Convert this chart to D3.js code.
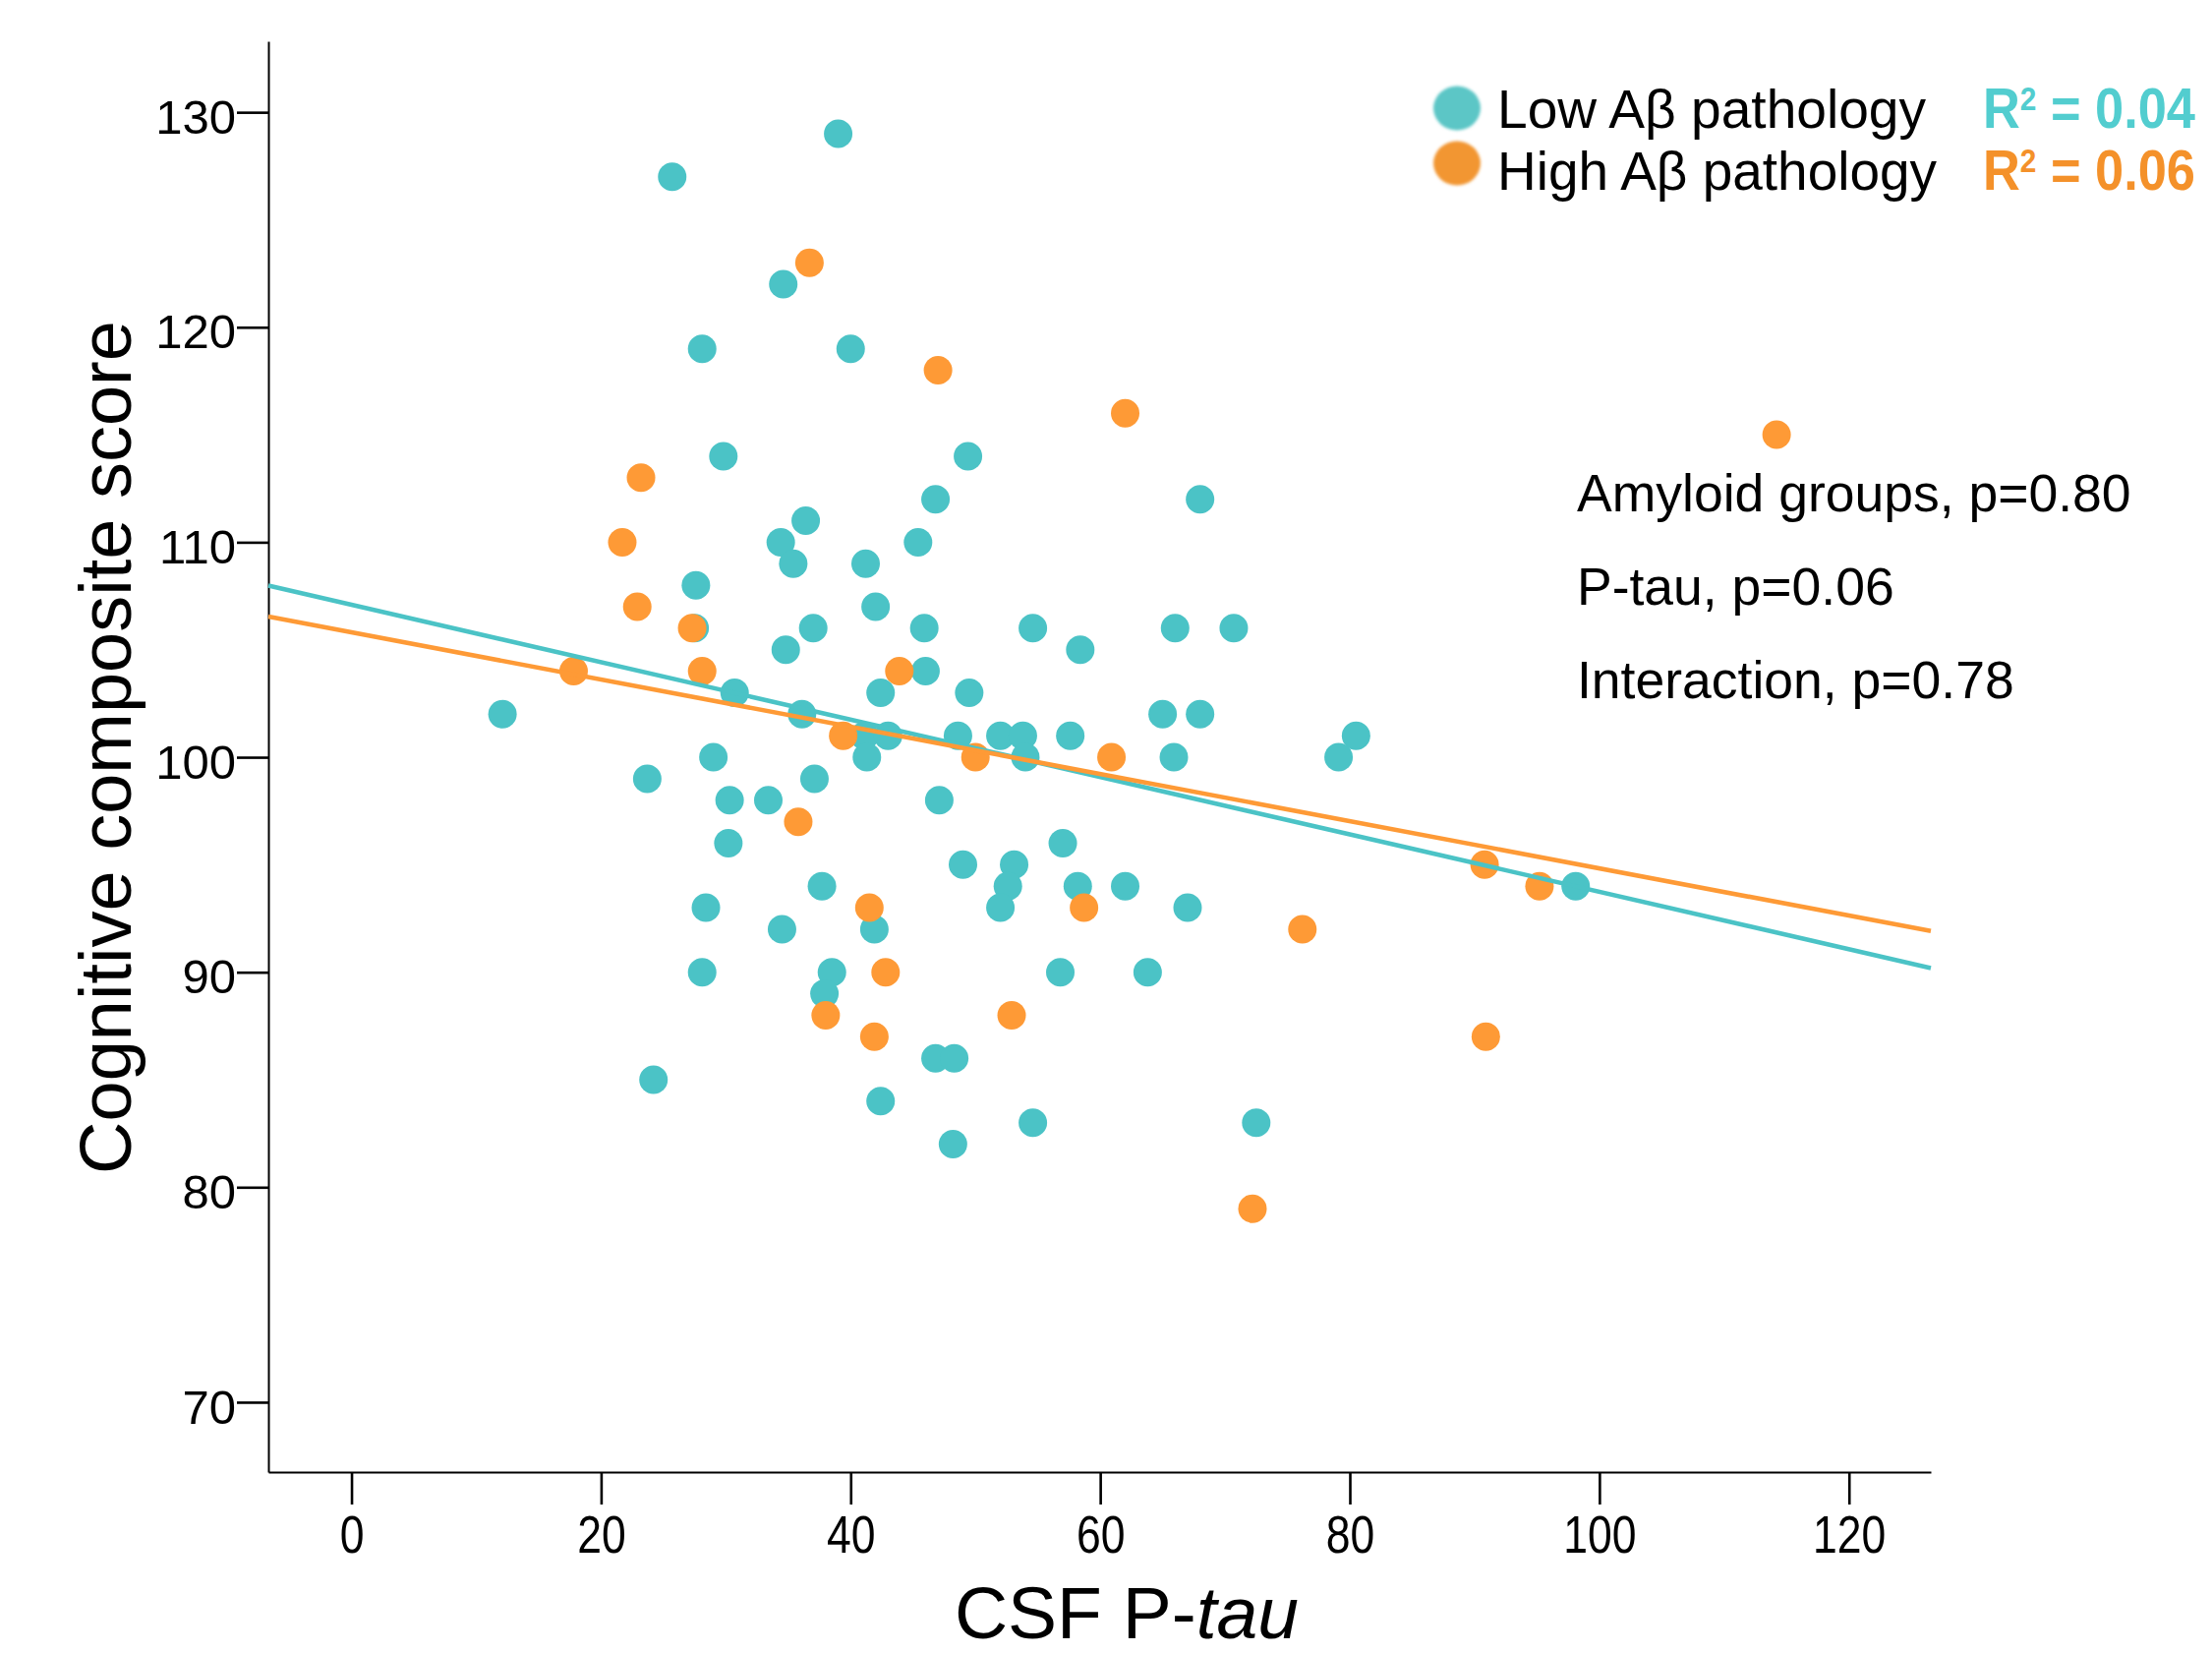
<!DOCTYPE html>
<html>
<head>
<meta charset="utf-8">
<script src="https://cdn.jsdelivr.net/npm/d3@7"></script>
<style>
  html, body { margin: 0; padding: 0; background: #ffffff; }
  svg { display: block; }
  text { font-family: "Liberation Sans", Arial, Helvetica, sans-serif; fill: #000; }
</style>
</head>
<body>
<svg id="chart" width="2250" height="1681"></svg>
<script>
// ---------------- data ----------------
const lowX = [12.1, 25.7, 39.0, 34.6, 28.1, 40.0, 29.8, 49.4, 36.4, 46.8, 68.0, 34.4, 45.4, 35.4, 41.2,
  27.6, 42.0, 27.5, 37.0, 45.9, 54.6, 66.0, 70.7, 34.8, 58.4, 46.0, 30.7, 42.4, 49.5, 36.1, 65.0, 68.0,
  41.1, 43.0, 48.6, 52.0, 53.8, 57.6, 80.5, 29.0, 41.3, 54.0, 65.9, 79.1, 23.7, 37.1, 30.3, 33.4, 47.1,
  30.2, 57.0, 49.0, 53.1, 37.7, 52.6, 58.2, 62.0, 98.1, 28.4, 52.0, 67.0, 34.5, 41.9, 28.1, 38.5, 56.8,
  63.8, 37.9, 46.8, 48.3, 24.2, 42.4, 54.6, 72.5, 48.2];
const lowY = [102, 127, 129, 122, 119, 119, 114, 114, 111, 112, 112, 110, 110, 109, 109,
  108, 107, 106, 106, 106, 106, 106, 106, 105, 105, 104, 103, 103, 103, 102, 102, 102,
  101, 101, 101, 101, 101, 101, 101, 100, 100, 100, 100, 100, 99, 99, 98, 98, 98,
  96, 96, 95, 95, 94, 94, 94, 94, 94, 93, 93, 93, 92, 92, 90, 90, 90,
  90, 89, 86, 86, 85, 84, 83, 83, 82];

const highX = [36.7, 47.0, 62.0, 114.2, 23.2, 21.7, 22.9, 27.3, 17.8, 28.1, 43.9, 39.4, 50.0, 60.9,
  35.8, 90.8, 95.2, 41.5, 58.7, 76.2, 42.8, 38.0, 52.9, 41.9, 90.9, 72.2];
const highY = [123, 118, 116, 115, 113, 110, 107, 106, 104, 104, 104, 101, 100, 100,
  97, 95, 94, 93, 93, 92, 90, 88, 88, 87, 87, 79];

// fitted lines: [intercept, slope]
const lowFit = [107.09, -0.1335];
const highFit = [105.81, -0.1098];

const xTicks = [0, 20, 40, 60, 80, 100, 120];
const yTicks = [70, 80, 90, 100, 110, 120, 130];
const xDomain = [-6.66, 126.56];
const yDomain = [66.75, 133.3];

const seriesNames = ["Low A\u03b2 pathology", "High A\u03b2 pathology"];
const r2Labels = ["0.04", "0.06"];
const statLines = ["Amyloid groups, p=0.80", "P-tau, p=0.06", "Interaction, p=0.78"];
const xTitleMain = "CSF P-";
const xTitleItalic = "tau";
const yTitle = "Cognitive composite score";

// ---------------- styling ----------------
const TEAL = "#4bc3c6";
const ORANGE = "#fe9a36";
const TEAL_LEG = "#5cc6c6";
const ORANGE_LEG = "#f29631";
const TEAL_TXT = "#52cdcf";
const ORANGE_TXT = "#f4912a";

const svg = d3.select("#chart");
const plot = { left: 273, right: 1964, top: 42, bottom: 1497 };

const x = d3.scaleLinear().domain(xDomain).range([plot.left, plot.right]);
const y = d3.scaleLinear().domain(yDomain).range([plot.bottom, plot.top]);

// axes
const xAxis = d3.axisBottom(x).tickValues(xTicks).tickFormat(d3.format("d"))
  .tickSize(33).tickSizeOuter(0).tickPadding(11);
const yAxis = d3.axisLeft(y).tickValues(yTicks).tickFormat(d3.format("d"))
  .tickSize(32).tickSizeOuter(0).tickPadding(1);

const gx = svg.append("g").attr("transform", `translate(0,${plot.bottom})`).call(xAxis);
const gy = svg.append("g").attr("transform", `translate(${plot.left},0)`).call(yAxis);

[gx, gy].forEach(g => {
  g.select(".domain").attr("stroke", "#000").attr("stroke-width", 2);
  g.selectAll(".tick line").attr("stroke", "#000").attr("stroke-width", 2.6);
  g.selectAll(".tick text").attr("fill", "#000")
    .attr("font-family", "'Liberation Sans', Arial, sans-serif");
});
gy.selectAll(".tick text").attr("font-size", 49).attr("dy", "0.43em");
gx.selectAll(".tick text").attr("font-size", 53).attr("transform", "scale(0.84,1)");

// points
const lowData = lowX.map((v, i) => ({ x: v, y: lowY[i] }));
const highData = highX.map((v, i) => ({ x: v, y: highY[i] }));

svg.append("g").selectAll("circle").data(lowData).join("circle")
  .attr("cx", d => x(d.x)).attr("cy", d => y(d.y)).attr("r", 14.5).attr("fill", TEAL);
svg.append("g").selectAll("circle").data(highData).join("circle")
  .attr("cx", d => x(d.x)).attr("cy", d => y(d.y)).attr("r", 14.5).attr("fill", ORANGE);

// regression lines
const line = d3.line().x(d => x(d[0])).y(d => y(d[1]));
[[lowFit, TEAL], [highFit, ORANGE]].forEach(([f, c]) => {
  const pts = xDomain.map(v => [v, f[0] + f[1] * v]);
  svg.append("path").datum(pts).attr("d", line)
    .attr("fill", "none").attr("stroke", c).attr("stroke-width", 4.6);
});

// axis titles
const xt = svg.append("text").attr("x", 1146).attr("y", 1666)
  .attr("text-anchor", "middle").attr("font-size", 75);
xt.append("tspan").text(xTitleMain);
xt.append("tspan").attr("font-style", "italic").text(xTitleItalic);

svg.append("text").attr("transform", "translate(133,760) rotate(-90)")
  .attr("text-anchor", "middle").attr("font-size", 74).text(yTitle);

// legend
const defs = svg.append("defs");
defs.append("filter").attr("id", "soft").attr("x", "-20%").attr("y", "-20%")
  .attr("width", "140%").attr("height", "140%")
  .append("feGaussianBlur").attr("stdDeviation", 1.4);

const legY = [110, 166];
const legBase = [130, 193];
const legLen = [436, 447];
const legDot = [TEAL_LEG, ORANGE_LEG];
const legTxt = [TEAL_TXT, ORANGE_TXT];
seriesNames.forEach((name, i) => {
  svg.append("ellipse").attr("cx", 1482).attr("cy", legY[i]).attr("rx", 24).attr("ry", 22.5)
    .attr("fill", legDot[i]).attr("filter", "url(#soft)");
  svg.append("text").attr("x", 1523).attr("y", legBase[i]).attr("font-size", 55)
    .attr("textLength", legLen[i]).attr("lengthAdjust", "spacingAndGlyphs").text(name);
  const t = svg.append("text").attr("x", 2017).attr("y", legBase[i])
    .attr("font-size", 58).attr("font-weight", "bold")
    .attr("textLength", 216).attr("lengthAdjust", "spacingAndGlyphs")
    .style("fill", legTxt[i]);
  t.append("tspan").text("R");
  t.append("tspan").attr("font-size", 33).attr("dy", -18).text("2");
  t.append("tspan").attr("dy", 18).text(" = " + r2Labels[i]);
});

// statistics annotation
statLines.forEach((s, i) => {
  svg.append("text").attr("x", 1604).attr("y", 520 + i * 95)
    .attr("font-size", 53.5).text(s);
});
</script>
</body>
</html>
